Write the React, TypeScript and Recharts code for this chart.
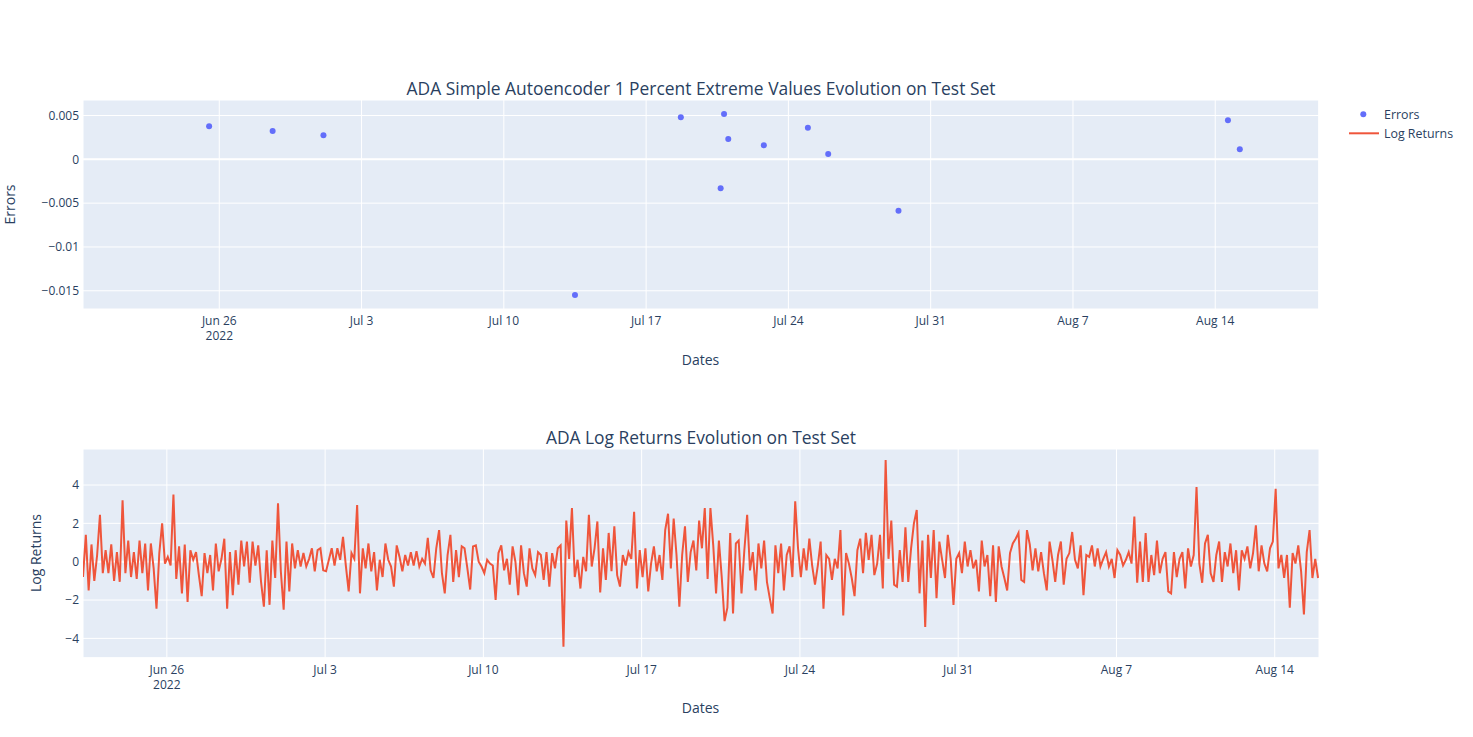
import React from 'react';
import {
  ScatterChart,
  Scatter,
  LineChart,
  Line,
  XAxis,
  YAxis,
  CartesianGrid,
  ReferenceLine,
} from 'recharts';

const INK = '#2a3f5f';
const PLOT_BG = '#E5ECF6';
const FONT = '"Open Sans", verdana, arial, sans-serif';

// 1 percent extreme values flagged by the autoencoder
const errorTimes = [
  '2022-06-25T12:00',
  '2022-06-28T15:00',
  '2022-07-01T03:00',
  '2022-07-13T12:00',
  '2022-07-18T17:00',
  '2022-07-20T16:00',
  '2022-07-20T20:00',
  '2022-07-21T01:00',
  '2022-07-22T19:00',
  '2022-07-24T23:00',
  '2022-07-25T23:00',
  '2022-07-29T10:00',
  '2022-08-14T15:00',
  '2022-08-15T05:00',
];
const errorValues = [
  0.00377, 0.00323, 0.00274, -0.01548, 0.00479, -0.00331, 0.00517, 0.00232,
  0.0016, 0.00361, 0.00061, -0.00586, 0.00445, 0.00114,
];

const returnsStart = '2022-06-22T07:00';
const returnsStepHours = 3;
const returnsWeek1 = [
  -0.8, 1.4, -1.5, 0.9, -1.0, 0.35, 2.45, -0.6, 0.6, -0.6, 0.9, -1.0, 0.5, -1.05,
  3.2, -0.6, 1.1, -0.8, 0.5, -0.9, 1.1, -0.6, 0.95, -1.5, 0.95, -0.35, -2.45,
  0.45, 2.0, -0.1, 0.25, -0.2, 3.5, -0.9, 0.8, -1.65, 0.9, -2.1, 0.6, 0.1, 0.5,
  -0.7, -1.8, 0.45, -0.6, 0.35, -1.5, 0.95, -0.5, 0.15, 1.2, -2.45, 0.5, -1.75,
];
const returnsWeek2 = [
  0.6, -1.2, 1.1, -0.25, 1.05, -1.1, 1.05, -0.2, 0.85, -1.05, -2.35, 0.6, -2.25,
  1.1, -0.85, 3.05, -0.5, -2.5, 1.05, -1.55, 0.95, -0.35, 0.6, -0.25, 0.45,
  -0.25, 0.15, 0.7, -0.5, 0.6, 0.7, -0.45, -0.5, 0.1, 0.7, -0.2, 0.7, 0.1, 1.3,
  -0.2, -1.55, 0.45, 0.15, 2.95, -1.65, 0.7, -0.35, 0.95, -0.5, 0.5, -1.5, 0.1,
  -0.8, 0.95, 0.1, -0.25, -1.3,
];
const returnsWeek3 = [
  0.85, 0.25, -0.5, 0.35, -0.2, 0.5, -0.2, 0.55, -0.25, 0.15, -0.1, 1.25, -0.45,
  -0.85, 0.7, 1.65, -0.6, -1.65, 0.35, 1.4, -1.05, 0.6, -0.8, 0.8, 0.7, -0.35,
  -1.45, 0.8, 0.85, 0, -0.25, -0.6, 0.1, -0.1, -0.2, -2.0, 0.45, 0.85, -0.45,
  0.15, -1.2, 0.8, 0, -1.75, 0.85, -0.6, -1.3, 0.7, -0.35, -0.7, 0.5, 0.35,
  -0.95, 0.5, -1.3,
];
const returnsWeek4 = [
  0.45, -0.35, 0.7, 0.85, -4.43, 2.15, 0.15, 2.8, -0.8, 0.1, -1.4, 0.25, -0.5,
  2.45, -0.25, 0.7, 2.1, -1.6, 0.7, -0.95, 1.5, -0.5, 1.85, -0.7, -1.3, 0.35,
  -0.2, 0.5, 0.15, 2.6, -1.4, 0.6, -0.8, 0.7, -1.55, -0.1, 0.8, -0.5, 0.35,
  -0.95, 1.65, 2.5, -0.35, 2.25, 0.35, -2.35, 0.35, 1.85, -1.05, 0.5, 1.1,
  -0.45, 2.15, 0.7,
];
const returnsWeek5 = [
  2.8, -0.9, 2.8, 0.85, -1.65, 1.1, -0.8, -3.1, -2.4, 1.5, -2.7, 0.95, 1.1,
  -1.65, 0.6, 2.45, -0.45, 0.5, -1.5, 0.95, -0.35, 1.1, -1.05, -1.9, -2.7, 0.85,
  -0.6, 0.95, -1.5, 0.35, 0.8, -0.8, 3.15, 0.7, -0.8, 0.7, -0.45, 1.2, -0.2,
  -1.2, -0.2, 1.05, -2.45, 0.35, 0.15, -0.95, 0.15, -0.35, 1.65, -2.8, 0.45,
  -0.1, -0.85, -1.8, 0.6,
];
const returnsWeek6 = [
  1.2, -0.6, 1.5, 0.1, 1.4, -0.7, -0.1, 1.4, -1.4, 5.3, 0.15, 2.15, -1.2, -1.3,
  0.6, -1.05, 1.8, -1.05, 0.7, 2.0, 2.7, -1.65, 1.1, -3.4, 1.4, -0.85, 1.65,
  -1.9, 1.05, 0.1, -0.85, 1.4, 0.15, -2.25, 0.15, 0.45, -0.6, 1.05, -0.25, 0.6,
  -0.35, 0.1, -1.55, 1.1, -0.25, 0.35, -1.8, 0.85, -2.1, 0.8, -0.25, -0.85,
  -1.5, 0.45, 0.95,
];
const returnsWeek7 = [
  1.2, 1.5, -0.95, -1.05, 1.65, 0.9, -0.45, 0.7, -0.5, 0.5, -0.6, -1.5, 1.05,
  0.1, -1.05, 0.35, 1.05, -1.2, 0.15, 0.45, 1.55, 0.1, -0.35, 0.85, -1.75, 0.35,
  0.25, 0.85, -0.25, 0.7, -0.25, 0.15, 0.5, -0.25, 0.15, -0.85, 0.6, 0.35, -0.2,
  0.1, 0.5, -0.1, 2.35, -1.1, 1.05, -1.05, 1.5, -1.05, 0.35, -0.7, 1.1, -0.6,
  0.15, 0.5, -1.55,
];
const returnsWeek8 = [
  -1.65, 0.5, -0.8, 0.15, 0.5, -1.4, 0.7, -0.25, 0.35, 3.9, -0.1, -1.1, 0.95,
  1.4, -0.6, -1.05, 0.35, 1.05, -1.05, 0.5, -0.25, 0.95, -0.6, 0.6, -1.5, 0.6,
  0.15, 0.8, -0.35, 0.45, 1.9, -0.5, 0.85, -0.1, -0.5, 0.7, 1.05, 3.8, -0.35,
  0.35, -0.85, 0.35, -2.4, 0.45, -0.1, 0.85, -0.5, -2.75, 0.5, 1.65, -0.85,
  0.15, -0.85,
];

const dateTicks = [
  '2022-06-26T00:00',
  '2022-07-03T00:00',
  '2022-07-10T00:00',
  '2022-07-17T00:00',
  '2022-07-24T00:00',
  '2022-07-31T00:00',
  '2022-08-07T00:00',
  '2022-08-14T00:00',
];
const dateTickLabels = ['Jun 26', 'Jul 3', 'Jul 10', 'Jul 17', 'Jul 24', 'Jul 31', 'Aug 7', 'Aug 14'];
const errorTicks = [-0.015, -0.01, -0.005, 0, 0.005];
const returnTicks = [-4, -2, 0, 2, 4];

const toMs = (s: string) => Date.parse(s + 'Z');
const HOUR = 3600 * 1000;

const errorData = errorTimes.map((t, i) => ({ t: toMs(t), v: errorValues[i] }));

const allReturns = [
  ...returnsWeek1,
  ...returnsWeek2,
  ...returnsWeek3,
  ...returnsWeek4,
  ...returnsWeek5,
  ...returnsWeek6,
  ...returnsWeek7,
  ...returnsWeek8,
];
const returnData = allReturns.map((v, i) => ({
  t: toMs(returnsStart) + i * returnsStepHours * HOUR,
  v,
}));

const tickMs = dateTicks.map(toMs);

// axis ranges as plotly drew them
const errorXDomain = [toMs('2022-06-19T07:05'), toMs('2022-08-19T02:10')];
const errorYDomain = [-0.01708, 0.00677];
const returnXDomain = [toMs(returnsStart), toMs(returnsStart) + 1312 * HOUR];
const returnYDomain = [-5.008, 5.879];

const fmtNum = (v: number) => (v === 0 ? '0' : (v < 0 ? '\u2212' : '') + String(Math.abs(v)));

function DateTick(props: any) {
  const { x, y, payload } = props;
  const i = tickMs.indexOf(payload.value);
  return (
    <g>
      <text x={x} y={y + 14} textAnchor="middle" fill={INK} fontSize={12} fontFamily={FONT}>
        {dateTickLabels[i]}
      </text>
      {i === 0 && (
        <text x={x} y={y + 29} textAnchor="middle" fill={INK} fontSize={12} fontFamily={FONT}>
          2022
        </text>
      )}
    </g>
  );
}

const Dot = (p: any) => <circle cx={p.cx} cy={p.cy} r={3} fill="#636efa" />;

export default function App() {
  const yTick = { fill: INK, fontSize: 12, fontFamily: FONT };
  return (
    <div style={{ position: 'absolute', left: 0, top: 0, width: 1473, height: 737, background: '#fff', fontFamily: FONT }}>
      <div style={{ position: 'absolute', left: 0, top: 0 }}>
        <ScatterChart width={1473} height={370} margin={{ top: 100, right: 154.3, bottom: 21, left: 23 }}>
          <CartesianGrid fill={PLOT_BG} fillOpacity={1} stroke="#fff" strokeWidth={1} />
          <XAxis
            type="number"
            dataKey="t"
            domain={errorXDomain}
            ticks={tickMs}
            allowDataOverflow
            interval={0}
            height={40}
            axisLine={false}
            tickLine={false}
            tickSize={0}
            tick={<DateTick />}
          />
          <YAxis
            type="number"
            dataKey="v"
            domain={errorYDomain}
            ticks={errorTicks}
            allowDataOverflow
            interval={0}
            width={60}
            axisLine={false}
            tickLine={false}
            tickSize={0}
            tickMargin={4}
            tick={yTick}
            tickFormatter={fmtNum}
          />
          <ReferenceLine y={0} stroke="#fff" strokeWidth={2} />
          <Scatter data={errorData} shape={Dot} isAnimationActive={false} />
        </ScatterChart>
      </div>
      <div style={{ position: 'absolute', left: 0, top: 400 }}>
        <LineChart width={1473} height={337} data={returnData} margin={{ top: 49, right: 154, bottom: 39.3, left: 23 }}>
          <CartesianGrid fill={PLOT_BG} fillOpacity={1} stroke="#fff" strokeWidth={1} />
          <XAxis
            type="number"
            dataKey="t"
            domain={returnXDomain}
            ticks={tickMs}
            allowDataOverflow
            interval={0}
            height={40}
            axisLine={false}
            tickLine={false}
            tickSize={0}
            tick={<DateTick />}
          />
          <YAxis
            type="number"
            domain={returnYDomain}
            ticks={returnTicks}
            allowDataOverflow
            interval={0}
            width={60}
            axisLine={false}
            tickLine={false}
            tickSize={0}
            tickMargin={4}
            tick={yTick}
            tickFormatter={fmtNum}
          />
          <ReferenceLine y={0} stroke="#fff" strokeWidth={2} />
          <Line
            type="linear"
            dataKey="v"
            stroke="#EF553B"
            strokeWidth={2}
            dot={false}
            isAnimationActive={false}
          />
        </LineChart>
      </div>
      <svg width={1473} height={737} style={{ position: 'absolute', left: 0, top: 0, pointerEvents: 'none' }}>
        <g fill={INK} fontFamily={FONT}>
          <text x={701} y={95} fontSize={17.4} textAnchor="middle">
            ADA Simple Autoencoder 1 Percent Extreme Values Evolution on Test Set
          </text>
          <text x={701} y={444} fontSize={17.4} textAnchor="middle">
            ADA Log Returns Evolution on Test Set
          </text>
          <text x={700.5} y={365} fontSize={14} textAnchor="middle">Dates</text>
          <text x={700.5} y={713} fontSize={14} textAnchor="middle">Dates</text>
          <text x={15} y={204.5} fontSize={14} textAnchor="middle" transform="rotate(-90 15 204.5)">
            Errors
          </text>
          <text x={41} y={553} fontSize={14} textAnchor="middle" transform="rotate(-90 41 553)">
            Log Returns
          </text>
          <circle cx={1363.3} cy={114.3} r={3} fill="#636efa" />
          <text x={1384} y={118.5} fontSize={12.4}>Errors</text>
          <line x1={1349} x2={1379} y1={133.3} y2={133.3} stroke="#EF553B" strokeWidth={2} />
          <text x={1384} y={137.5} fontSize={12.4}>Log Returns</text>
        </g>
      </svg>
    </div>
  );
}
